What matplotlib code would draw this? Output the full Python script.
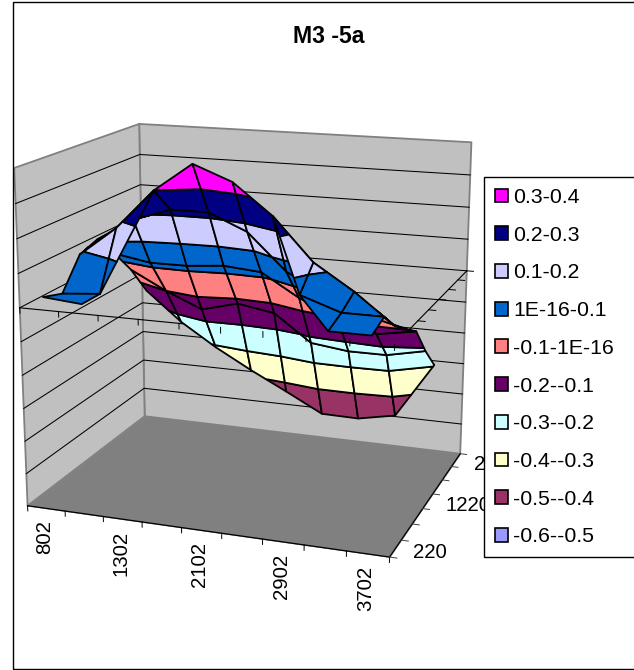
import numpy as np
import matplotlib
matplotlib.use('Agg')
import matplotlib.pyplot as plt
from matplotlib.patches import Patch, Rectangle
from mpl_toolkits.mplot3d import proj3d
from mpl_toolkits.mplot3d.art3d import Poly3DCollection

plt.rcParams['font.family'] = ['Liberation Sans', 'DejaVu Sans']

# z values, row 0 is the front, nan = hidden part
z_row0 = [0.02, 0.01, np.nan, np.nan, np.nan, np.nan, np.nan, 0.0, 0.0]
z_row1 = [0.0, 0.01, np.nan, np.nan, np.nan, np.nan, 0.06, 0.02, 0.02]
z_row2 = [0.09, 0.18, 0.30, 0.385, 0.34, 0.25, 0.125, 0.05, -0.04]
z_row3 = [0.11, 0.18, 0.22, 0.22, 0.17, 0.06, 0.0, -0.05, -0.08]
z_row4 = [0.04, 0.02, 0.02, 0.03, 0.02, -0.05, -0.10, -0.14, -0.12]
z_row5 = [-0.04, -0.10, -0.15, -0.12, -0.14, -0.225, -0.24, -0.24, -0.215]
z_row6 = [-0.14, -0.235, -0.31, -0.375, -0.435, -0.497, -0.499, -0.475, -0.295]

x_labels = ['802', '1302', '2102', '2902', '3702']
y_labels = ['220', '1220', '2220']
band_edges = [0.4, 0.3, 0.2, 0.1, 0.0, -0.1, -0.2, -0.3, -0.4, -0.5, -0.6]
band_labels = ['0.3-0.4', '0.2-0.3', '0.1-0.2', '1E-16-0.1', '-0.1-1E-16',
               '-0.2--0.1', '-0.3--0.2', '-0.4--0.3', '-0.5--0.4', '-0.6--0.5']
band_colors = ['#FF00FF', '#000080', '#CCCCFF', '#0066CC', '#FF8080',
               '#660066', '#CCFFFF', '#FFFFCC', '#993366', '#9999FF']

W, H = 634, 670
Z = np.array([z_row0, z_row1, z_row2, z_row3, z_row4, z_row5, z_row6])
nrow, ncol = Z.shape
zmin, zmax = -0.6, 0.4
x_off, y_off = 0.35, 0.5


def clip(poly, lo, hi):
    # cut a polygon to lo <= z <= hi
    for sign, lim in ((1, lo), (-1, hi)):
        out = []
        for k in range(len(poly)):
            a, b = poly[k], poly[(k + 1) % len(poly)]
            da, db = sign * (a[2] - lim), sign * (b[2] - lim)
            if da >= 0:
                out.append(a)
            if da * db < 0:
                t = da / (da - db)
                out.append(tuple(a[n] + t * (b[n] - a[n]) for n in range(3)))
        poly = out
        if len(poly) < 3:
            return []
    return poly


fig = plt.figure(figsize=(W / 100, H / 100), dpi=100)
ax = fig.add_subplot(projection='3d', computed_zorder=False)
ax.set_xlim(0, ncol)
ax.set_ylim(0, nrow)
ax.set_zlim(zmin, zmax)
ax.view_init(elev=15.483, azim=-70.264, roll=0)
ax.set_proj_type('persp', focal_length=0.539)
ax.set_box_aspect((5.031, 3.959, 4.598))
ax.set_axis_off()
ax.patch.set_visible(False)

# axes box placed so the floor and walls land on the reference corners
scale, tx, ty = 3022.331, 253.12, 348.953
vl = ax.viewLim
ax.set_position([(tx + vl.x0 * scale) / W, (ty + vl.y0 * scale) / H,
                 vl.width * scale / W, vl.height * scale / H])

# walls and floor
left_wall = [(0, 0, zmin), (0, nrow, zmin), (0, nrow, zmax), (0, 0, zmax)]
back_wall = [(0, nrow, zmin), (ncol, nrow, zmin), (ncol, nrow, zmax), (0, nrow, zmax)]
floor = [(0, 0, zmin), (ncol, 0, zmin), (ncol, nrow, zmin), (0, nrow, zmin)]
ax.add_collection3d(Poly3DCollection([left_wall, back_wall], facecolors='#C0C0C0',
                                     edgecolors='#808080', linewidths=1.3, zorder=1), autolim=False)
ax.add_collection3d(Poly3DCollection([floor], facecolors='#808080', edgecolors='#808080',
                                     linewidths=0.5, zorder=1), autolim=False)

for lev in band_edges[1:-1]:
    ax.plot([0, 0, ncol], [0, nrow, nrow], [lev, lev, lev], color='k', lw=0.75, zorder=2)

# axis lines, on the zero plane and on the floor
ax.plot([0, ncol, ncol], [0, 0, nrow], [0, 0, 0], color='k', lw=0.8, zorder=2)
ax.plot([0, ncol, ncol], [0, 0, nrow], [zmin, zmin, zmin], color='k', lw=0.9, zorder=3)
for i in range(ncol + 1):
    ax.plot([i, i], [0, 0], [0, -0.016], color='k', lw=0.7, zorder=5)
    ax.plot([i, i], [0, 0], [zmin, zmin - 0.016], color='k', lw=0.7, zorder=3)
for j in range(nrow + 1):
    ax.plot([ncol, ncol + 0.17], [j, j], [0, 0], color='k', lw=0.7, zorder=2)
    ax.plot([ncol, ncol + 0.17], [j, j], [zmin, zmin], color='#404040', lw=0.7, zorder=3)

# surface, one piece per cell and colour band
polys, cols = [], []
for j in range(nrow - 1):
    for i in range(ncol - 1):
        x0, x1 = i + x_off, i + 1 + x_off
        y0, y1 = j + y_off, j + 1 + y_off
        cell = [(x0, y0, Z[j, i]), (x1, y0, Z[j, i + 1]),
                (x1, y1, Z[j + 1, i + 1]), (x0, y1, Z[j + 1, i])]
        cell = [c for c in cell if not np.isnan(c[2])]
        if len(cell) < 3:
            continue
        for b, col in enumerate(band_colors):
            piece = clip(cell, band_edges[b + 1], band_edges[b])
            if piece:
                polys.append(piece)
                cols.append(col)
ax.add_collection3d(Poly3DCollection(polys, facecolors=cols, edgecolors='k', linewidths=1.3,
                                     zsort='average', zorder=4), autolim=False)

# tick labels stay upright, so they go through the projection by hand
M = ax.get_proj()
for n, lab in enumerate(x_labels):
    px, py, _ = proj3d.proj_transform(2 * n + 0.5, 0, zmin, M)
    ax.annotate(lab, xy=(px, py), xytext=(-2, -12), textcoords='offset pixels', fontsize=14.7,
                rotation=90, ha='center', va='top', annotation_clip=False, zorder=6)
for n, lab in enumerate(y_labels):
    px, py, _ = proj3d.proj_transform(ncol, 3 * n + 0.5, zmin, M)
    ax.annotate(lab, xy=(px, py), xytext=(18, -4), textcoords='offset pixels', fontsize=14.7,
                ha='left', va='center', annotation_clip=False, zorder=6)

fig.text(329 / W, 1 - 36.5 / H, 'M3 -5a', fontsize=16.6, fontweight='bold', ha='center', va='center')

fig.add_artist(Rectangle((12.5 / W, 1.5 / H), 660 / W, 667 / H, transform=fig.transFigure,
                         fill=False, ec='k', lw=1.0, zorder=1))

handles = [Patch(facecolor=c, edgecolor='k', linewidth=1.2) for c in band_colors]
leg = fig.legend(handles, band_labels, loc='upper left', mode='expand',
                 bbox_to_anchor=(483.5 / W, 1 - 557 / H, 200 / W, 380 / H),
                 borderaxespad=0, fontsize=15.3, frameon=True, fancybox=False, framealpha=1,
                 edgecolor='k', handlelength=0.62, handleheight=0.62, handletextpad=0.27,
                 borderpad=0.52, labelspacing=0.88, ncols=1)
leg.get_frame().set_linewidth(1.0)

fig.savefig('out.png', dpi=100)
